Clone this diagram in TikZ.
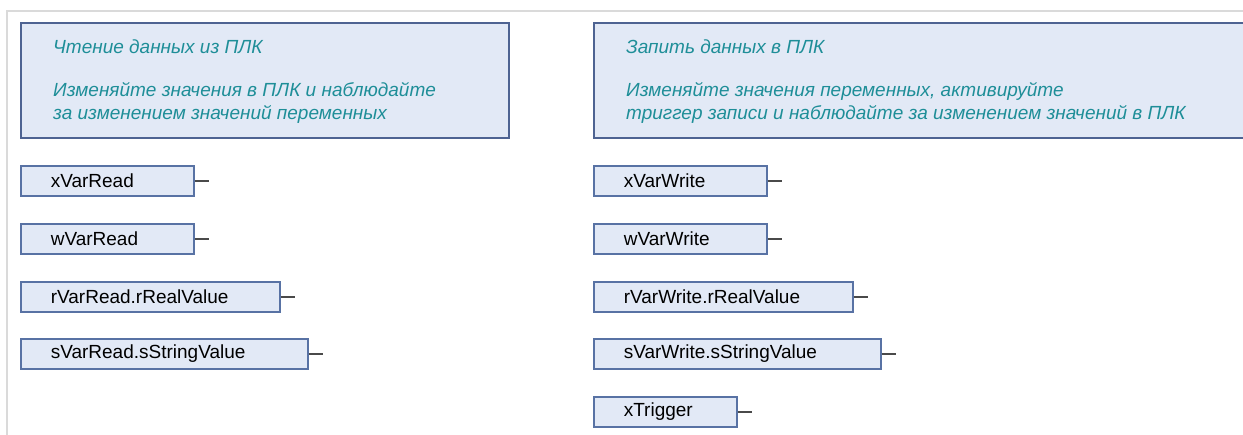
\documentclass[tikz,border=0pt]{standalone}
\usepackage{fontspec}
\setmainfont{Liberation Sans}
\definecolor{boxfill}{HTML}{E2E9F6}
\definecolor{boxdraw}{HTML}{5872A4}
\definecolor{cmtdraw}{HTML}{4E6392}
\definecolor{cmttext}{HTML}{1E8E98}
\definecolor{frame}{HTML}{DADADA}
\definecolor{stubcol}{HTML}{4A4A4A}
\tikzset{
  vbox/.style={draw=boxdraw, fill=boxfill, line width=1.6pt, minimum height=30pt,
    inner xsep=0pt, inner ysep=0pt, anchor=north west, align=left,
    font=\fontsize{19}{22}\selectfont},
  cbox/.style={draw=cmtdraw, fill=boxfill, line width=1.6pt, anchor=north west,
    minimum height=115pt, inner sep=0pt},
  ctext/.style={anchor=base west, align=left, inner sep=0pt, text=cmttext,
    font=\fontsize{19}{23}\selectfont\itshape},
  stub/.style={draw=stubcol, line width=1.6pt},
  framel/.style={draw=frame, line width=2pt}
}
\begin{document}
\begin{tikzpicture}[x=1pt,y=-1pt]
\clip (0,0) rectangle (1243,435);
\fill[white] (0,0) rectangle (1243,435);
\coordinate (f1) at (7,11);
\coordinate (f2) at (1243,11);
\coordinate (f3) at (7,435);
\draw[framel] (f2) -- (f1) -- (f3);

% comment boxes
\node[cbox, minimum width=488pt] (lbox) at (20,22) {};
\node[ctext] (ltext) at (53,120) {Чтение данных из ПЛК\\[20pt]Изменяйте значения в ПЛК и наблюдайте\\за изменением значений переменных};
\node[cbox, minimum width=680pt] (rbox) at (593,22) {};
\node[ctext] (rtext) at (626,120) {Запить данных в ПЛК\\[20pt]Изменяйте значения переменных, активируйте\\триггер записи и наблюдайте за изменением значений в ПЛК};

% left variables
\node[vbox, text width=173pt] (a1) at (20,165) {\hspace*{30pt}xVarRead};
\node[vbox, text width=173pt] (a2) at (20,223) {\hspace*{30pt}wVarRead};
\node[vbox, text width=259pt] (a3) at (20,281) {\hspace*{30pt}rVarRead.rRealValue};
\node[vbox, text width=287pt] (a4) at (20,338) {\hspace*{30pt}sVarRead.sStringValue};

% right variables
\node[vbox, text width=173pt] (b1) at (593,165) {\hspace*{30pt}xVarWrite};
\node[vbox, text width=173pt] (b2) at (593,223) {\hspace*{30pt}wVarWrite};
\node[vbox, text width=259pt] (b3) at (593,281) {\hspace*{30pt}rVarWrite.rRealValue};
\node[vbox, text width=287pt] (b4) at (593,338) {\hspace*{30pt}sVarWrite.sStringValue};
\node[vbox, text width=143pt] (b5) at (593,396) {\hspace*{30pt}xTrigger};

\foreach \n in {a1,a2,a3,a4,b1,b2,b3,b4,b5}{
  \path (\n.east) ++(14,0) coordinate (\n-end);
  \draw[stub] (\n.east) -- (\n-end);
}
\end{tikzpicture}
\end{document}
